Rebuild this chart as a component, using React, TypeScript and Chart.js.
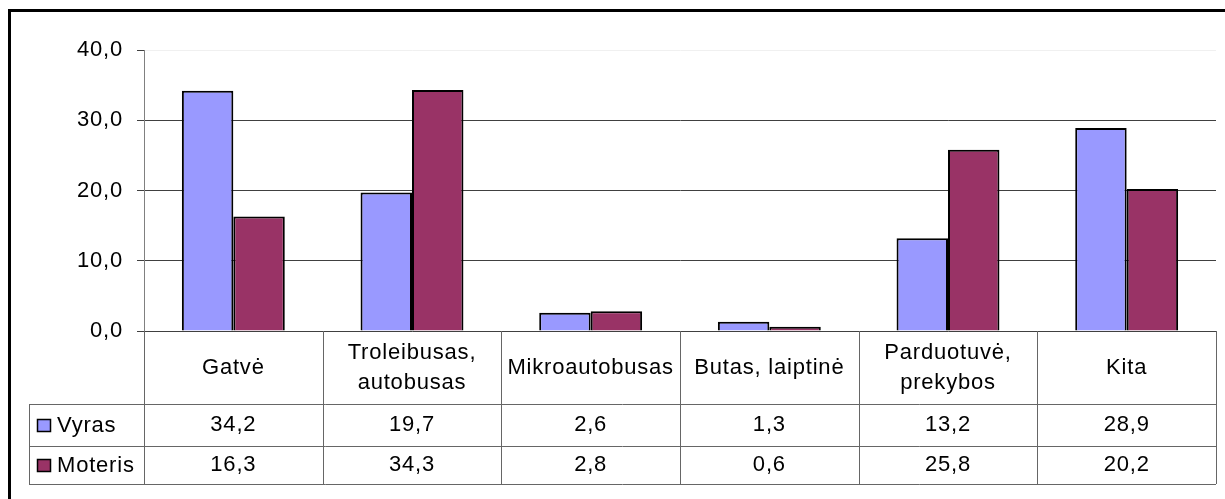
import React, { useEffect, useRef } from 'react';
import { Chart, registerables } from 'chart.js';

Chart.register(...registerables);

const categories = ['Gatvė', 'Troleibusas,\nautobusas', 'Mikroautobusas', 'Butas, laiptinė', 'Parduotuvė,\nprekybos', 'Kita'];
const seriesNames = ['Vyras', 'Moteris'];
const vyras = [34.2, 19.7, 2.6, 1.3, 13.2, 28.9];
const moteris = [16.3, 34.3, 2.8, 0.6, 25.8, 20.2];
const yTickLabels = ['0,0', '10,0', '20,0', '30,0', '40,0'];
const seriesColors = ['#9999FF', '#993366'];

const FONT_FAMILY = '"Liberation Sans", Arial, sans-serif';
const FONT_SIZE = 22;
const W = 1225;
const H = 499;

const fmt = (v: number) => v.toFixed(1).replace('.', ',');

const tablePlugin = {
  id: 'dataTable',
  beforeDraw(chart: any) {
    const ctx = chart.ctx;
    ctx.save();
    ctx.fillStyle = '#fff';
    ctx.fillRect(0, 0, chart.width, chart.height);
    ctx.fillStyle = '#000';
    ctx.fillRect(8, 9, chart.width - 8, 3);
    ctx.fillRect(8, 9, 3, chart.height - 9);
    ctx.restore();
    (ctx as any).letterSpacing = '0.8px';
  },
  afterDraw(chart: any) {
    const { ctx, chartArea, scales } = chart;
    const xs = scales.x;
    const n = categories.length;
    const step = (chartArea.right - chartArea.left) / n;
    const top = chartArea.bottom;
    const rows = [top, top + 73, top + 115, top + 153];
    const legendLeft = 29;
    ctx.save();
    ctx.strokeStyle = '#666666';
    ctx.lineWidth = 1;
    ctx.beginPath();
    for (let r = 1; r < rows.length; r++) {
      const y = Math.round(rows[r]) + 0.5;
      ctx.moveTo(legendLeft, y);
      ctx.lineTo(chartArea.right, y);
    }
    for (let i = 0; i <= n; i++) {
      const bx = Math.round(chartArea.left + i * step) + 0.5;
      ctx.moveTo(bx, top);
      ctx.lineTo(bx, rows[3]);
    }
    ctx.moveTo(legendLeft + 0.5, rows[1]);
    ctx.lineTo(legendLeft + 0.5, rows[3]);
    ctx.stroke();

    ctx.fillStyle = '#000';
    ctx.font = `${FONT_SIZE}px ${FONT_FAMILY}`;
    ctx.textBaseline = 'middle';
    ctx.textAlign = 'center';
    const headCy = (rows[0] + rows[1]) / 2;
    categories.forEach((c, i) => {
      const cx = xs.getPixelForValue(i);
      const lines = c.split('\n');
      lines.forEach((ln, j) => {
        const y = headCy + (j - (lines.length - 1) / 2) * 30;
        ctx.fillText(ln, cx, y);
      });
    });
    chart.data.datasets.forEach((ds: any, d: number) => {
      const cy = (rows[d + 1] + rows[d + 2]) / 2;
      ds.data.forEach((v: number, i: number) => {
        ctx.textAlign = 'center';
        ctx.fillText(fmt(v), xs.getPixelForValue(i), cy);
      });
      ctx.fillStyle = ds.backgroundColor;
      ctx.fillRect(legendLeft + 8, cy - 6, 13, 12);
      ctx.strokeStyle = '#000';
      ctx.lineWidth = 1.5;
      ctx.strokeRect(legendLeft + 8.5, cy - 5.5, 13, 12);
      ctx.fillStyle = '#000';
      ctx.textAlign = 'left';
      ctx.fillText(seriesNames[d], legendLeft + 28, cy + 1);
    });
    ctx.restore();
    (ctx as any).letterSpacing = '0px';
  },
};

export default function App() {
  const ref = useRef<HTMLCanvasElement>(null);
  useEffect(() => {
    if (!ref.current) return;
    const chart = new Chart(ref.current, {
      type: 'bar',
      data: {
        labels: categories.map((c) => c.replace('\n', ' ')),
        datasets: [vyras, moteris].map((data, d) => ({
          label: seriesNames[d],
          data,
          backgroundColor: seriesColors[d],
          borderColor: '#000',
          borderWidth: 2,
          categoryPercentage: 0.576,
          barPercentage: 1,
        })),
      },
      options: {
        animation: false,
        responsive: false,
        devicePixelRatio: 1,
        layout: { padding: { top: 50, right: 9, left: 0, bottom: 0 } },
        plugins: { legend: { display: false }, tooltip: { enabled: false } },
        scales: {
          x: {
            ticks: { display: false },
            grid: { display: false },
            border: { display: false },
            afterFit: (s: any) => {
              s.height = 168;
            },
          },
          y: {
            min: 0,
            max: 40,
            ticks: {
              stepSize: 10,
              padding: 14,
              color: '#000',
              font: { family: FONT_FAMILY, size: FONT_SIZE },
              callback: (_v: any, i: number) => yTickLabels[i],
            },
            grid: {
              color: (c: any) => (c.tick && c.tick.value === 40 ? '#f0f0f0' : '#404040'),
              tickColor: '#404040',
              tickLength: 7,
              drawTicks: true,
            },
            border: { color: '#808080' },
            afterFit: (s: any) => {
              s.width = 144;
            },
          },
        },
      },
      plugins: [tablePlugin],
    });
    return () => chart.destroy();
  }, []);
  return (
    <div style={{ position: 'fixed', left: 0, top: 0, width: W, height: H, background: '#fff' }}>
      <canvas ref={ref} width={W} height={H} style={{ display: 'block', width: W, height: H }} />
    </div>
  );
}
